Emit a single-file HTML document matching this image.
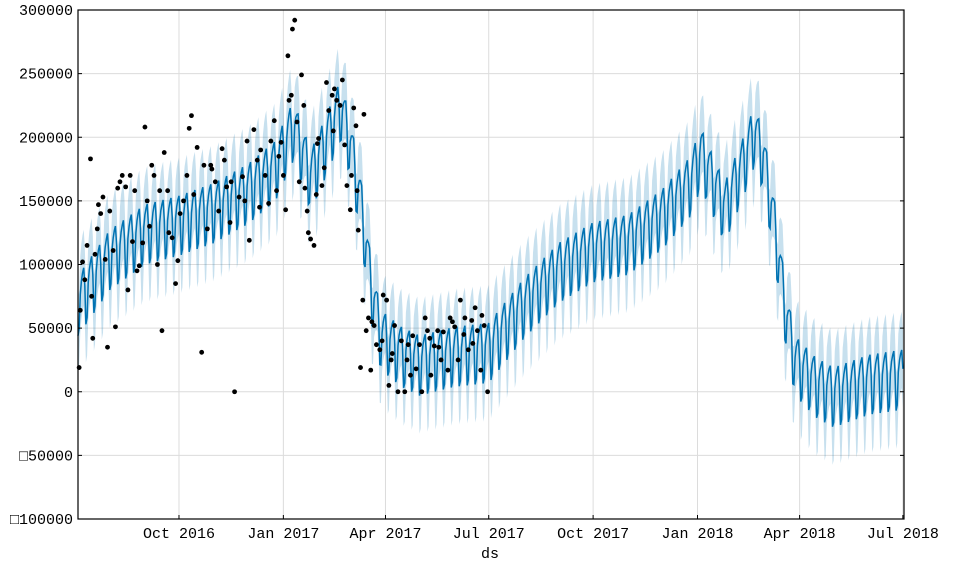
<!DOCTYPE html>
<html><head><meta charset="utf-8">
<style>
html,body{margin:0;padding:0;background:#fff;}
svg{display:block;font-family:"Liberation Mono","WenQuanYi Zen Hei",monospace;}
</style></head>
<body>
<svg id="chart" width="956" height="566" viewBox="0 0 956 566" xmlns="http://www.w3.org/2000/svg">
<g id="grid"></g>
<g id="band"></g>
<g id="line"></g>
<g id="dots"></g>
<rect x="78" y="10" width="826" height="509" fill="none" stroke="#000" stroke-width="1.2"/>
<g id="axes"></g>
<text x="490" y="558" font-size="15" text-anchor="middle" fill="#000">ds</text>
</svg>
<script>
// ---- data ----
const yTicks = [300000, 250000, 200000, 150000, 100000, 50000, 0, -50000, -100000];
const yTickLabels = ["300000","250000","200000","150000","100000","50000","0","\u25A150000","\u25A1100000"];
const xTickDays = [89, 181, 271, 362, 454, 546, 636, 727];
const xTickLabels = ["Oct 2016","Jan 2017","Apr 2017","Jul 2017","Oct 2017","Jan 2018","Apr 2018","Jul 2018"];
// trend knots (day index from 2016-07-04, weekly-mean level in thousands)
const trendDays = [0,28,59,89,120,150,174,190,205,216,231,239,249,259,267,285,301,332,362,393,424,454,485,515,539,549,570,586,596,604,614,624,632,650,666,697,727];
const trendVals = [72,108,128,135,145,160,178,210,170,192,225,200,150,80,45,32,25,32,35,70,98,114,120,140,165,188,145,180,205,186,130,62,25,8,0,10,14];
// weekly seasonality (thousands)
const weekly = [-28,-24,2,11,16,19,4];
const bandHalf = 30;
// observed points
const obsDays = [1,2,4,8,11,12,13,17,18,22,24,26,28,31,33,37,39,42,44,46,50,54,57,59,61,65,67,72,74,76,79,83,86,88,93,96,98,100,105,109,111,114,117,121,124,127,129,131,134,138,142,145,149,151,155,158,161,165,168,170,173,175,179,181,183,185,186,188,189,191,193,195,197,199,202,203,205,208,210,212,215,217,219,221,224,226,228,231,233,235,237,240,241,243,245,246,247,249,251,254,256,258,261,263,266,269,272,274,276,279,282,285,288,291,293,295,298,301,303,306,308,311,314,317,320,322,326,328,332,335,337,341,344,347,350,352,355,358,361,
 6,15,20,35,48,52,63,70,80,90,102,118,135,147,160,177,200,211,225,252,259,268,277,290,310,318,330,340,348,356];
const obsVals = [19,64,102,115,183,75,42,128,147,153,104,35,142,111,51,165,170,161,80,170,158,99,117,208,150,178,170,158,48,188,158,121,85,103,150,170,207,217,192,31,178,128,178,165,142,191,182,161,133,0,153,169,197,119,206,182,190,170,148,197,213,158,196,170,143,264,229,233,285,292,212,165,249,225,142,125,120,115,155,199,162,176,243,221,233,238,229,225,245,194,162,143,170,223,209,158,127,19,72,48,58,17,52,37,33,76,72,5,25,52,0,40,0,37,13,44,18,37,0,58,48,13,36,48,25,47,17,58,51,25,72,58,33,56,66,48,17,52,0,
 88,108,140,160,118,95,130,100,125,140,155,175,165,150,145,185,160,195,205,218,55,40,30,25,42,35,55,45,38,60];

// ---- scales ----
const X0=78, X1=904, DMAX=728;
const Y0=10, Y1=519, VMAX=300000, VMIN=-100000;
function xs(d){return X0+(d/DMAX)*(X1-X0);}
function ys(v){return Y0+(VMAX-v)/(VMAX-VMIN)*(Y1-Y0);}
const NS="http://www.w3.org/2000/svg";
function mk(tag,attrs,parent){const e=document.createElementNS(NS,tag);for(const k in attrs)e.setAttribute(k,attrs[k]);parent.appendChild(e);return e;}
function trendAt(d){
  for(let i=0;i<trendDays.length-1;i++){
    if(d<=trendDays[i+1]){const t=(d-trendDays[i])/(trendDays[i+1]-trendDays[i]);return trendVals[i]+t*(trendVals[i+1]-trendVals[i]);}
  }
  return trendVals[trendVals.length-1];
}

const grid=document.getElementById('grid'), axes=document.getElementById('axes');
yTicks.forEach((v,i)=>{
  const y=ys(v);
  const g=mk('line',{x1:X0,x2:X1,y1:y,y2:y,stroke:'#dcdcdc','stroke-width':1},grid);
  
  
  const t=mk('text',{x:73,y:y+5,'font-size':15,'text-anchor':'end',fill:'#000'},axes);
  t.textContent=yTickLabels[i];
  
  
  const tk=mk('line',{x1:X0,x2:X0+4,y1:y,y2:y,stroke:'#000'},axes);
  
  
  const tk2=mk('line',{x1:X1-4,x2:X1,y1:y,y2:y,stroke:'#000'},axes);
  
  
});
xTickDays.forEach((d,i)=>{
  const x=xs(d);
  const g=mk('line',{x1:x,x2:x,y1:Y0,y2:Y1,stroke:'#dcdcdc','stroke-width':1},grid);
  
  
  const t=mk('text',{x:x,y:538,'font-size':15,'text-anchor':'middle',fill:'#000'},axes);
  t.textContent=xTickLabels[i];
  
  
  const tk=mk('line',{x1:x,x2:x,y1:Y1,y2:Y1-4,stroke:'#000'},axes);
  
  
});

// forecast
let up=[],lo=[],ln=[];
for(let d=0;d<DMAX;d++){
  const v=(trendAt(d)+weekly[d%7])*1000;
  ln.push(xs(d).toFixed(1)+','+ys(v).toFixed(1));
  up.push(xs(d).toFixed(1)+','+ys(v+bandHalf*1000).toFixed(1));
  lo.push(xs(d).toFixed(1)+','+ys(v-bandHalf*1000).toFixed(1));
}
const bp=mk('polygon',{points:up.concat(lo.reverse()).join(' '),fill:'#0072B2','fill-opacity':0.22,stroke:'none'},document.getElementById('band'));


const pl=mk('polyline',{points:ln.join(' '),fill:'none',stroke:'#0072B2','stroke-width':1.5},document.getElementById('line'));



const dots=document.getElementById('dots');
obsDays.forEach((d,i)=>{
  const c=mk('circle',{cx:xs(d),cy:ys(obsVals[i]*1000),r:2.4,fill:'#000'},dots);
  
  
});
</script>
</body></html>
